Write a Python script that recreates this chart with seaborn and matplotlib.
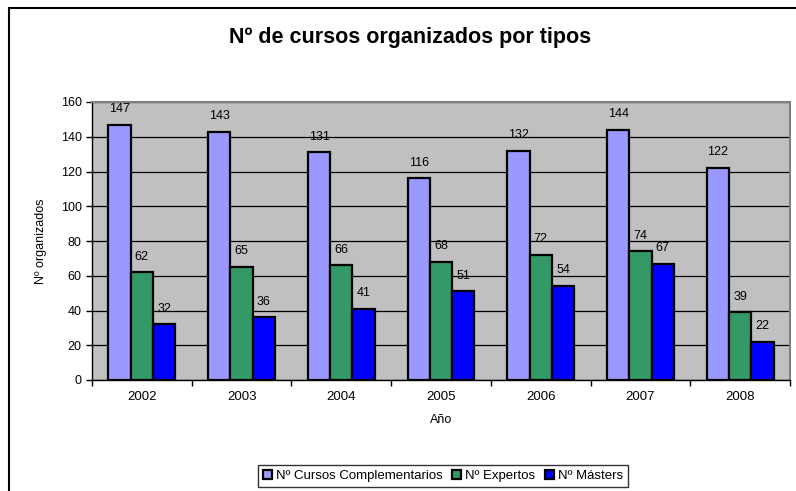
import pandas as pd
import numpy as np
import seaborn as sns
import matplotlib.pyplot as plt
from matplotlib.patches import Rectangle

years = ['2002', '2003', '2004', '2005', '2006', '2007', '2008']
series = ['Nº Cursos Complementarios', 'Nº Expertos', 'Nº Másters']
complementarios = [147, 143, 131, 116, 132, 144, 122]
expertos = [62, 65, 66, 68, 72, 74, 39]
masters = [32, 36, 41, 51, 54, 67, 22]
colors = ['#9999FF', '#339966', '#0000FF']

df = pd.DataFrame({'Año': years * 3,
                   'Valor': complementarios + expertos + masters,
                   'Serie': np.repeat(series, len(years))})

sns.set_style('white')
plt.rcParams['font.family'] = ['Liberation Sans', 'DejaVu Sans']
plt.rcParams['text.color'] = 'black'
plt.rcParams['axes.labelcolor'] = 'black'
plt.rcParams['xtick.color'] = 'black'
plt.rcParams['ytick.color'] = 'black'

fig = plt.figure(figsize=(7.96, 4.91), dpi=100)
ax = fig.add_axes([92 / 796, 1 - 380 / 491, 698 / 796, 278 / 491])

sns.barplot(data=df, x='Año', y='Valor', hue='Serie', palette=colors,
            width=0.67, gap=0, edgecolor='black', linewidth=1.6,
            saturation=1, ax=ax, zorder=3)

ax.set_facecolor('#C0C0C0')
ax.set_ylim(0, 160)
ax.set_xlim(-0.5, 6.5)
ax.set_yticks(range(0, 161, 20))
ax.yaxis.grid(True, color='black', linewidth=0.9, zorder=0)
ax.set_axisbelow(True)
ax.tick_params(axis='y', labelsize=9, length=4, width=1, color='black', left=True)
ax.tick_params(axis='x', which='major', labelsize=9.5, length=0, pad=8)
ax.set_xticks(np.arange(-0.5, 7, 1), minor=True)
ax.tick_params(axis='x', which='minor', length=4, width=1, color='black', bottom=True)

for side in ['top', 'right']:
    ax.spines[side].set_color('#808080')
    ax.spines[side].set_linewidth(1.5)
for side in ['left', 'bottom']:
    ax.spines[side].set_color('black')
    ax.spines[side].set_linewidth(1)

for container in ax.containers:
    ax.bar_label(container, fontsize=9, padding=7, color='black')

ax.set_xlabel('Año', fontsize=9, labelpad=8)
ax.set_ylabel('Nº organizados', fontsize=9, labelpad=10)
fig.text(410 / 796, 1 - 38 / 491, 'Nº de cursos organizados por tipos',
         ha='center', va='center', fontsize=15.5, fontweight='bold')

ax.legend(loc='center', bbox_to_anchor=(443 / 796, 1 - 476 / 491),
          bbox_transform=fig.transFigure, ncol=3, fontsize=9.5,
          frameon=True, fancybox=False, edgecolor='black',
          handlelength=0.7, handleheight=0.7, handletextpad=0.3,
          columnspacing=0.7, borderpad=0.35)
ax.get_legend().get_frame().set_linewidth(1)

fig.patches.append(Rectangle((9 / 796, -0.1), 1.2, 1 - 8 / 491 + 0.1,
                             transform=fig.transFigure, fill=False,
                             edgecolor='black', linewidth=1.5))

fig.savefig('out.png', dpi=100)
